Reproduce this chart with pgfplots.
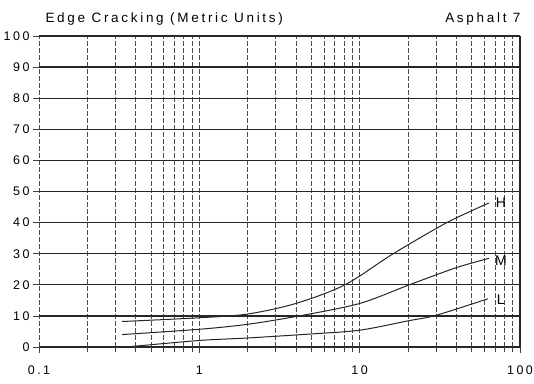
\documentclass[border=0pt]{standalone}
\usepackage{fontspec}
\setmainfont{Liberation Sans}[LetterSpace=20]
\usepackage{pgfplots}
\pgfplotsset{compat=1.18}
\begin{document}
\begin{tikzpicture}
\useasboundingbox (-39pt,-36pt) rectangle (495pt,347pt);
\begin{axis}[
  at={(0,0)}, anchor=south west,
  scale only axis, width=481pt, height=311pt,
  xmode=log, xmin=0.1, xmax=100, ymin=0, ymax=100,
  clip=false,
  axis line style={draw=none},
  xtick={0.1,1,10,100}, xticklabels={0.1,1,10,100},
  minor xtick={0.2,0.3,0.4,0.5,0.6,0.7,0.8,0.9,2,3,4,5,6,7,8,9,20,30,40,50,60,70,80,90},
  ytick={0,10,20,30,40,50,60,70,80,90,100},
  xmajorgrids, xminorgrids, ymajorgrids,
  major x grid style={black!70, line width=0.7pt, dash pattern=on 5pt off 2pt},
  minor x grid style={black!70, line width=0.7pt, dash pattern=on 5pt off 2pt},
  major y grid style={black!85, line width=1.2pt},
  tick align=outside,
  xtick pos=lower, ytick pos=left,
  major tick length=6pt, minor tick length=5pt,
  tick style={black!75, line width=0.7pt},
  /pgf/number format/assume math mode=true,
  ticklabel style={font=\fontsize{12.5}{13}\selectfont},
  xticklabel style={yshift=-9pt},
]
\addplot[black!85, line width=1pt, smooth] coordinates {
(0.33,8.2) (1,9.4) (2,10.6) (4,14) (8.1,20) (16.2,30) (35,40) (64,46.3)};
\addplot[black!85, line width=1pt, smooth] coordinates {
(0.33,4.0) (1,5.7) (2,7.3) (4.2,10) (10,14) (20.4,20) (40,25.5) (64,28.5)};
\addplot[black!85, line width=1pt, smooth] coordinates {
(0.35,0) (1,2.1) (2,2.9) (5,4.2) (10,5.4) (20,8.4) (30,10.2) (63,15.5)};
\draw[black!85, line width=1.2pt] (rel axis cs:1,0) -- (rel axis cs:1,1);
\node[font=\fontsize{14}{14}\selectfont] at (axis cs:76,46.5) {H};
\node[font=\fontsize{14}{14}\selectfont] at (axis cs:76,27.8) {M};
\node[font=\fontsize{14}{14}\selectfont] at (axis cs:76,15.1) {L};
\end{axis}
\node[anchor=base west, font=\fontsize{13.5}{14}\selectfont] at ([xshift=3pt,yshift=13pt]current axis.north west) {Edge Cracking (Metric Units)};
\node[anchor=base east, font=\fontsize{13.5}{14}\selectfont] at ([xshift=4pt,yshift=13pt]current axis.north east) {Asphalt 7};
\end{tikzpicture}
\end{document}
